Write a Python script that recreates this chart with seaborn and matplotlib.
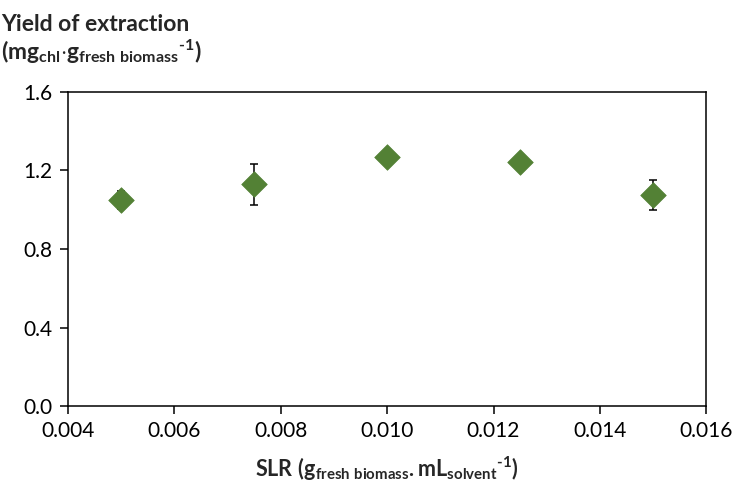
import matplotlib
matplotlib.use("Agg")
import matplotlib.pyplot as plt
import seaborn as sns
import pandas as pd

# Solid-to-liquid ratio vs. chlorophyll extraction yield
slr = [0.005, 0.0075, 0.010, 0.0125, 0.015]
yield_mean = [1.05, 1.13, 1.27, 1.245, 1.075]
yield_err = [0.045, 0.105, 0.015, 0.015, 0.078]
x_ticks = [0.004, 0.006, 0.008, 0.010, 0.012, 0.014, 0.016]
y_ticks = [0.0, 0.4, 0.8, 1.2, 1.6]

sns.set_style("ticks")
plt.rcParams["font.family"] = ["Lato", "DejaVu Sans"]
# all math-formatted labels are bold
plt.rcParams["mathtext.fontset"] = "custom"
plt.rcParams["mathtext.rm"] = "Lato:weight=bold"
plt.rcParams["mathtext.it"] = "Lato:weight=bold"
plt.rcParams["mathtext.bf"] = "Lato:weight=bold"
plt.rcParams["mathtext.default"] = "rm"

df = pd.DataFrame({"slr": slr, "y": yield_mean, "err": yield_err})

fig = plt.figure(figsize=(7.37, 4.88), dpi=100)
ax = fig.add_axes([0.0923, 0.168, 0.866, 0.6435])

ax.errorbar(df["slr"], df["y"], yerr=df["err"], fmt="none", ecolor="black",
            elinewidth=1.1, capsize=3.2, capthick=1.1, zorder=2)
sns.scatterplot(data=df, x="slr", y="y", marker="D", s=170, color="#538135",
                edgecolor="#538135", linewidth=0.5, ax=ax, zorder=3)

ax.set_xlim(0.004, 0.016)
ax.set_ylim(0.0, 1.6)
ax.set_xticks(x_ticks)
ax.set_xticklabels([f"{v:.3f}" for v in x_ticks])
ax.set_yticks(y_ticks)
ax.set_yticklabels([f"{v:.1f}" for v in y_ticks])
ax.tick_params(axis="both", direction="out", length=6, width=1.1,
               labelsize=15, color="black", labelcolor="black", pad=5)
for sp in ax.spines.values():
    sp.set_linewidth(1.1)
    sp.set_color("black")
    sp.set_visible(True)
ax.set_xlabel("")
ax.set_ylabel("")

fig.text(0.002, 0.937, "Yield of extraction", fontsize=16.5, fontweight="bold",
         ha="left", va="baseline")
fig.text(0.002, 0.877,
         r"$(mg_{chl}{\cdot}g_{fresh\ biomass}{}^{\text{-}1})$",
         fontsize=16.5, ha="left", va="baseline")
fig.text(0.525, 0.022,
         r"$SLR\ (g_{fresh\ biomass}.mL_{solvent}{}^{\text{-}1})$",
         fontsize=15.5, ha="center", va="baseline")

fig.savefig("out.png", dpi=100)
